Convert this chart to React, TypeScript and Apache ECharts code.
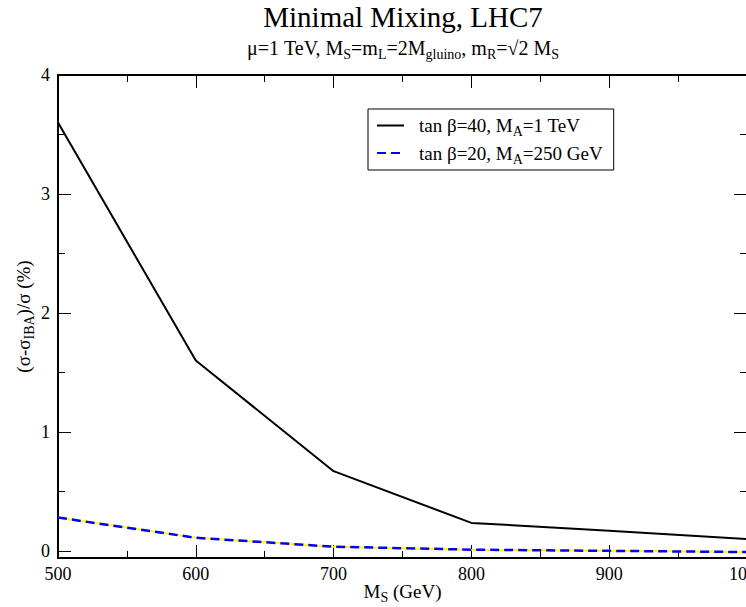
import React, { useEffect, useRef } from "react";
import * as echarts from "echarts";

const xValues = [500, 600, 700, 800, 900, 1000];
const tanb40Values = [3.6, 1.6, 0.67, 0.235, 0.17, 0.1];
const tanb20Values = [0.28, 0.11, 0.035, 0.01, 0.0, -0.01];
const yMajorTicks = [0, 1, 2, 3, 4];
const yMinorTicks = [0.5, 1.5, 2.5, 3.5];
const seriesNames = ["tanb40", "tanb20"];
const legendLabels = [
  "tan β=40, M{s|A}=1 TeV",
  "tan β=20, M{s|A}=250 GeV",
];
const titleText = "Minimal Mixing, LHC7";
const subtitleText = "μ=1 TeV, M{s|S}=m{s|L}=2M{s|gluino}, m{s|R}=√2 M{s|S}";
const yAxisTitle = "(σ-σ{s|IBA})/σ (%)";
const xAxisTitle = "M{s|S} (GeV)";

const FONT = "Liberation Serif";
const subStyle = { fontSize: 14, fontFamily: FONT, color: "#000", padding: [12, 0, 0, 0] };

const X_MIN = 500, X_MAX = 1000, Y_MIN = -0.06, Y_MAX = 4;

export default function App() {
  const ref = useRef<HTMLDivElement>(null);
  useEffect(() => {
    if (!ref.current) return;
    const chart = echarts.init(ref.current, null, { renderer: "svg" });
    const toPairs = (ys: number[]) => xValues.map((x, i) => [x, ys[i]]);
    const lineAxis = { show: true, onZero: false, lineStyle: { color: "#000", width: 2 } };
    const baseX = {
      type: "value",
      min: X_MIN,
      max: X_MAX,
      interval: 100,
      splitLine: { show: false },
      axisLine: lineAxis,
      axisTick: { show: true, inside: true, length: 13, lineStyle: { color: "#000", width: 1 } },
      minorTick: { show: true, splitNumber: 2, length: 7, lineStyle: { color: "#000", width: 1 } },
    };
    const baseY = (position: string, ticks: number[], len: number, showLine: boolean, labels: boolean) => ({
      type: "value",
      position,
      min: Y_MIN,
      max: Y_MAX,
      scale: true,
      splitLine: { show: false },
      axisLine: { ...lineAxis, show: showLine },
      axisTick: { show: true, inside: true, length: len, customValues: ticks, lineStyle: { color: "#000", width: 1 } },
      axisLabel: labels
        ? { show: true, customValues: ticks, margin: 8, fontSize: 18, fontFamily: FONT, color: "#000" }
        : { show: false },
    });
    const option: any = {
      animation: false,
      backgroundColor: "#fff",
      textStyle: { fontFamily: FONT },
      grid: { left: 58, top: 75, width: 689, height: 483, containLabel: false, outerBoundsMode: "none" },
      graphic: [
        {
          type: "text",
          x: 403,
          y: 17,
          style: {
            text: titleText,
            fontSize: 29,
            fontFamily: FONT,
            fill: "#000",
            textAlign: "center",
            textVerticalAlign: "middle",
          },
        },
        {
          type: "text",
          x: 403,
          y: 48,
          style: {
            text: subtitleText,
            fontSize: 20,
            fontFamily: FONT,
            fill: "#000",
            textAlign: "center",
            textVerticalAlign: "middle",
            rich: { s: subStyle },
          },
        },
      ],
      legend: {
        data: seriesNames,
        orient: "vertical",
        left: 368,
        top: 109,
        padding: [7, 11, 4, 8],
        itemWidth: 27,
        itemHeight: 14,
        itemGap: 5,
        borderColor: "#000",
        borderWidth: 1,
        borderRadius: 0,
        itemStyle: { opacity: 0 },
        formatter: (name: string) => legendLabels[seriesNames.indexOf(name)],
        textStyle: {
          fontSize: 19,
          fontFamily: FONT,
          color: "#000",
          padding: [0, 0, 0, 10],
          rich: { s: subStyle },
        },
      },
      xAxis: [
        {
          ...baseX,
          position: "bottom",
          axisLabel: {
            show: true,
            margin: 7,
            fontSize: 18,
            fontFamily: FONT,
            color: "#000",
            formatter: (v: number) => String(v),
          },
          name: xAxisTitle,
          nameLocation: "middle",
          nameGap: 20,
          nameMoveOverlap: false,
          nameTextStyle: { fontSize: 19, fontFamily: FONT, color: "#000", rich: { s: subStyle } },
        },
        { ...baseX, position: "top", axisLabel: { show: false } },
      ],
      yAxis: [
        {
          ...baseY("left", yMajorTicks, 13, true, true),
          name: yAxisTitle,
          nameLocation: "middle",
          nameRotate: 90,
          nameGap: 22,
          nameMoveOverlap: false,
          nameTextStyle: { fontSize: 19, fontFamily: FONT, color: "#000", rich: { s: subStyle } },
        },
        baseY("left", yMinorTicks, 7, false, false),
        baseY("right", yMajorTicks, 13, true, false),
        baseY("right", yMinorTicks, 7, false, false),
      ],
      series: [
        {
          name: "yellow",
          type: "line",
          data: toPairs(tanb20Values),
          symbol: "none",
          lineStyle: { color: "#ffff00", width: 2 },
          z: 2,
        },
        {
          name: seriesNames[0],
          type: "line",
          data: toPairs(tanb40Values),
          symbol: "none",
          itemStyle: { color: "#000" },
          lineStyle: { color: "#000", width: 2 },
          z: 3,
        },
        {
          name: seriesNames[1],
          type: "line",
          data: toPairs(tanb20Values),
          symbol: "none",
          itemStyle: { color: "#0000ff" },
          lineStyle: { color: "#0000ff", width: 2.5, type: [9, 5] },
          z: 4,
        },
      ],
    };
    chart.setOption(option);
    return () => chart.dispose();
  }, []);
  return <div ref={ref} style={{ width: 746, height: 607, position: "absolute", left: 0, top: 0 }} />;
}
